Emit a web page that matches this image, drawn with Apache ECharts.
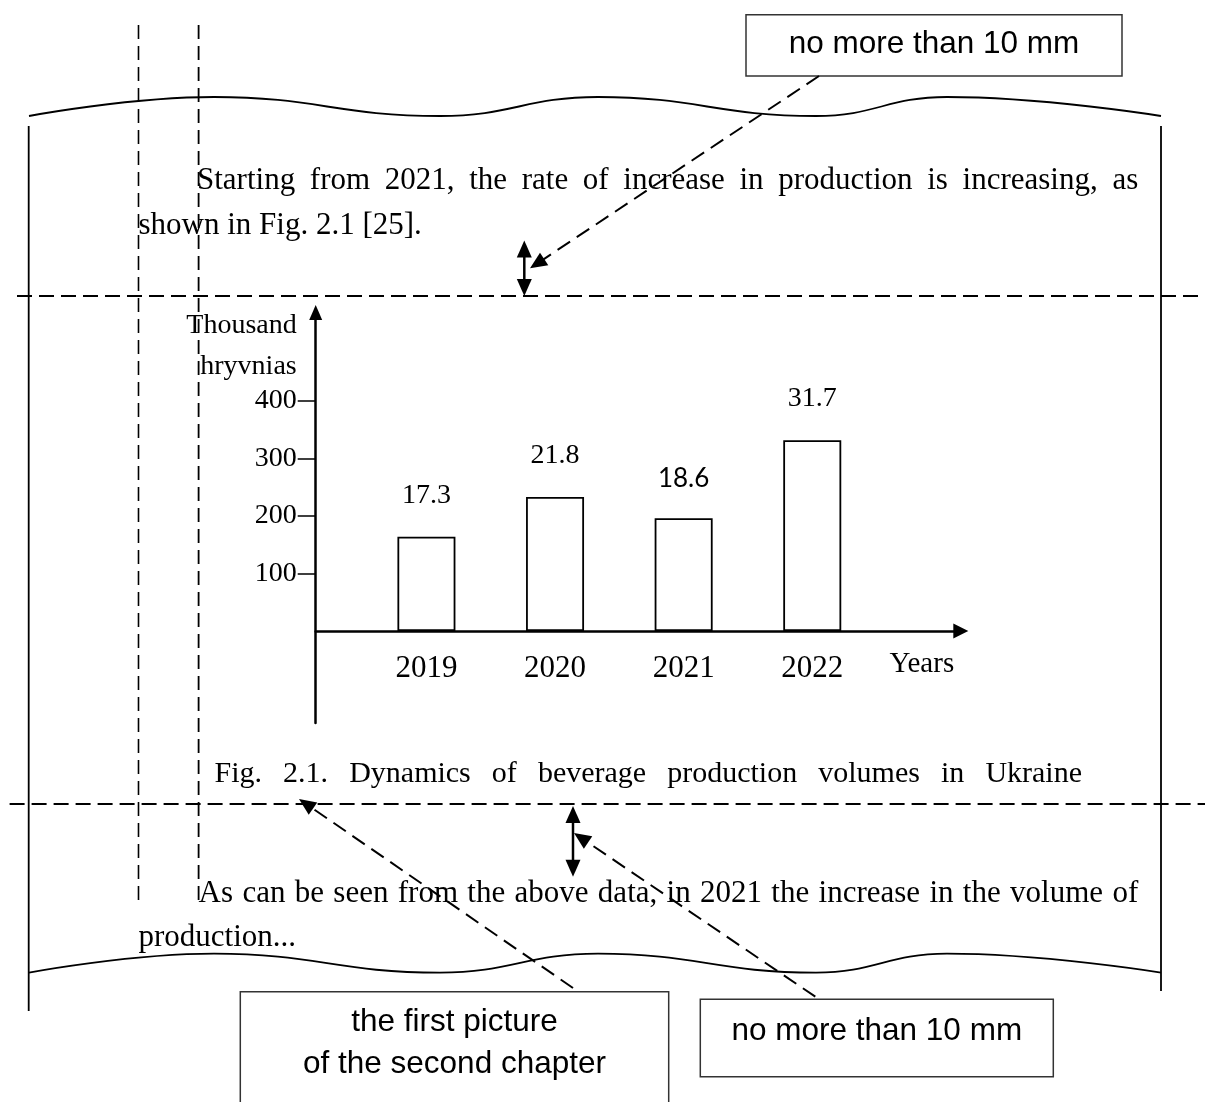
<!DOCTYPE html>
<html>
<head>
<meta charset="utf-8">
<script src="https://cdn.jsdelivr.net/npm/echarts@6/dist/echarts.min.js"></script>
<style>
html,body{margin:0;padding:0;background:#fff;}
#chart{width:1205px;height:1102px;}
</style>
</head>
<body>
<div id="chart"></div>
<script>
// ---------- data ----------
const years = [2019, 2020, 2021, 2022];
const volumes = [164, 233, 196, 332];
const valueLabels = ['17.3', '21.8', '18.6', '31.7'];
const yTicks = [100, 200, 300, 400];
const yAxisName = 'Thousand\nhryvnias';
const xAxisName = 'Years';
const paragraphTop = ['Starting from 2021, the rate of increase in production is increasing, as', 'shown in Fig. 2.1 [25].'];
const caption = 'Fig. 2.1. Dynamics of beverage production volumes in Ukraine';
const paragraphBottom = ['As can be seen from the above data, in 2021 the increase in the volume of', 'production...'];
const noteTop = 'no more than 10 mm';
const noteFirst = ['the first picture', 'of the second chapter'];
const noteBottom = 'no more than 10 mm';

// ---------- helpers for the page decorations ----------
const SERIF = '"Liberation Serif", "Times New Roman", serif';
const SANS = '"Liberation Sans", Arial, sans-serif';
const ctx = document.createElement('canvas').getContext('2d');
function measure(t, size, fam) { ctx.font = size + 'px ' + fam; return ctx.measureText(t).width; }
function txt(t, x, y, size, fam, align) {
  return { type: 'text', x: x, y: y, z: 5, silent: true,
    style: { text: t, fill: '#000', font: size + 'px ' + fam,
      align: align || 'left', verticalAlign: 'middle',
      textAlign: align || 'left', textVerticalAlign: 'middle' } };
}
function justified(line, x0, x1, y, size, fam) {
  const words = line.split(' ');
  const widths = words.map(w => measure(w, size, fam));
  const total = widths.reduce((a, b) => a + b, 0);
  const gap = (x1 - x0 - total) / (words.length - 1);
  const out = [];
  let x = x0;
  words.forEach((w, i) => { out.push(txt(w, x, y, size, fam)); x += widths[i] + gap; });
  return out;
}
function line(x1, y1, x2, y2, w, dash) {
  return { type: 'line', z: 6, silent: true, shape: { x1, y1, x2, y2 },
    style: { stroke: '#000', lineWidth: w, lineDash: dash || null } };
}
function head(tx, ty, fx, fy, len, hw) {
  const d = Math.hypot(tx - fx, ty - fy), ux = (tx - fx) / d, uy = (ty - fy) / d;
  const bx = tx - ux * len, by = ty - uy * len;
  return { type: 'polygon', z: 7, silent: true,
    shape: { points: [[tx, ty], [bx - uy * hw, by + ux * hw], [bx + uy * hw, by - ux * hw]] },
    style: { fill: '#000' } };
}
function dashedArrow(fx, fy, tx, ty) {
  const d = Math.hypot(tx - fx, ty - fy), ux = (tx - fx) / d, uy = (ty - fy) / d;
  return [line(fx, fy, tx - ux * 14, ty - uy * 14, 2, [15, 8]), head(tx, ty, fx, fy, 17, 7.5)];
}
function doubleArrow(x, y1, y2) {
  return [line(x, y1 + 12, x, y2 - 12, 2.5), head(x, y1, x, y2, 17, 7.5), head(x, y2, x, y1, 17, 7.5)];
}
function box(x, y, w, h) {
  return { type: 'rect', z: 4, silent: true, shape: { x, y, width: w, height: h },
    style: { fill: '#fff', stroke: '#333', lineWidth: 1.5 } };
}
function wave(dy) {
  return { type: 'polyline', z: 6, silent: true,
    shape: { points: [[29, 116 + dy], [214, 97 + dy], [440, 116 + dy], [598, 97 + dy], [816, 116 + dy], [947, 97 + dy], [1161, 116 + dy]], smooth: 0.45 },
    style: { stroke: '#000', lineWidth: 1.8, fill: null } };
}

const graphics = [].concat(
  [wave(0), wave(856.7)],
  [line(28.7, 126, 28.7, 1011, 1.8), line(1161, 126, 1161, 991, 1.8)],
  [line(138.5, 25, 138.5, 905, 1.6, [14, 7]), line(198.6, 25, 198.6, 905, 1.8, [14, 7])],
  [line(17, 296, 1205, 296, 2, [15, 7]), line(9.6, 804, 1205, 804, 2, [15, 7])],
  justified(paragraphTop[0], 197, 1138.2, 180.5, 31, SERIF),
  [txt(paragraphTop[1], 138.5, 225.5, 31, SERIF)],
  justified(caption, 214.5, 1082, 774.2, 30, SERIF),
  justified(paragraphBottom[0], 198.6, 1138.2, 893.8, 31, SERIF),
  [txt(paragraphBottom[1], 138.5, 937.5, 31, SERIF)],
  [box(746, 14.7, 376, 61.3), txt(noteTop, 934, 44.5, 31.5, SANS, 'center')],
  [box(240.3, 991.7, 428.4, 130), txt(noteFirst[0], 454.5, 1022, 31.5, SANS, 'center'), txt(noteFirst[1], 454.5, 1064.5, 31.5, SANS, 'center')],
  [box(700.3, 999.3, 353, 77.4), txt(noteBottom, 876.8, 1031, 31.5, SANS, 'center')],
  dashedArrow(819, 76, 530, 268.3),
  doubleArrow(524.3, 240.5, 296),
  dashedArrow(573, 988, 299, 799),
  doubleArrow(573, 806, 876.7),
  dashedArrow(815.3, 996.7, 574, 833)
);

// ---------- chart ----------
const chart = echarts.init(document.getElementById('chart'), null, { renderer: 'canvas' });
const option = {
  animation: false,
  backgroundColor: '#fff',
  grid: { left: 315.7, right: 244.2, top: 312.5, bottom: 379, containLabel: false },
  xAxis: {
    type: 'value', min: 2018.139, max: 2023.155,
    position: 'bottom', offset: -92,
    splitLine: { show: false },
    axisLine: { show: true, onZero: false, symbol: ['none', 'triangle'], symbolSize: [15, 15],
      lineStyle: { color: '#000', width: 2.5 } },
    axisTick: { show: false },
    axisLabel: { customValues: years, margin: 22, color: '#000', fontFamily: SERIF, fontSize: 31,
      formatter: v => String(v) },
    name: xAxisName, nameLocation: 'end', nameGap: -39,
    nameTextStyle: { color: '#000', fontFamily: SERIF, fontSize: 29, align: 'center',
      verticalAlign: 'top', padding: [19, 0, 0, 0] }
  },
  yAxis: {
    type: 'value', min: -160, max: 554,
    splitLine: { show: false },
    axisLine: { show: true, onZero: false, symbol: ['none', 'triangle'], symbolSize: [13, 15],
      lineStyle: { color: '#000', width: 2.5 } },
    axisTick: { show: true, customValues: yTicks, length: 18, inside: false,
      lineStyle: { color: '#000', width: 1.5 } },
    axisLabel: { customValues: yTicks, margin: 19, color: '#000', fontFamily: SERIF, fontSize: 28 },
    name: yAxisName, nameLocation: 'end', nameGap: 4,
    nameTextStyle: { color: '#000', fontFamily: SERIF, fontSize: 28, lineHeight: 41,
      align: 'right', verticalAlign: 'top', padding: [0, 19, 0, 0] }
  },
  series: [{
    type: 'bar',
    barWidth: 58,
    data: years.map((y, i) => ({
      value: [y, volumes[i]],
      label: i === 2 ? { fontFamily: 'Lato, "Open Sans", sans-serif', fontSize: 26 } : {}
    })),
    itemStyle: { color: '#fff', borderColor: '#000', borderWidth: 1.8 },
    label: { show: true, position: 'top', distance: 27, color: '#000',
      fontFamily: SERIF, fontSize: 28,
      formatter: p => valueLabels[p.dataIndex] }
  }],
  graphic: graphics
};
chart.setOption(option);
</script>
</body>
</html>
